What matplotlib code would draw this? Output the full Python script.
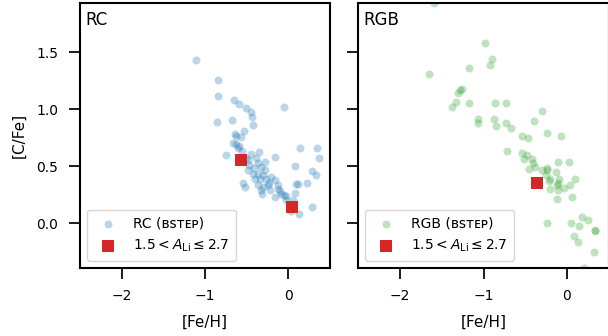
import matplotlib.pyplot as plt

# RC stars (bstep)
rc_feh = [-1.108, -0.847, -0.840, -0.651, -0.599, -0.514, -0.454, -0.437, -0.430, -0.057,
          -0.852, -0.675, -0.539, -0.635, -0.575, -0.645, -0.666, -0.627, -0.606, -0.755,
          -0.558, -0.446, -0.349, -0.386, -0.506, -0.286, -0.165, -0.365, -0.325, -0.486,
          -0.425, -0.365, -0.286, -0.346, -0.265, -0.205, -0.165, -0.406, -0.546, -0.527,
          -0.365, -0.305, -0.245, -0.124, -0.325, -0.225, -0.124, -0.084, -0.313, -0.165,
          -0.052, -0.033, 0.057, 0.084, 0.136, 0.337, 0.365, 0.084, 0.277, 0.329,
          0.096, 0.117, 0.225, 0.277, 0.124, 0.036, -0.470, -0.301, -0.229, -0.096,
          -0.024, -0.482, -0.590, -0.410]
rc_cfe = [1.433, 1.259, 1.112, 1.080, 1.048, 1.010, 0.977, 0.927, 0.865, 1.019,
          0.886, 0.904, 0.807, 0.763, 0.754, 0.778, 0.706, 0.695, 0.657, 0.600,
          0.635, 0.606, 0.627, 0.568, 0.568, 0.538, 0.583, 0.524, 0.494, 0.465,
          0.436, 0.436, 0.465, 0.392, 0.392, 0.406, 0.377, 0.392, 0.353, 0.318,
          0.333, 0.318, 0.333, 0.333, 0.289, 0.289, 0.304, 0.259, 0.253, 0.229,
          0.244, 0.200, 0.200, 0.265, 0.662, 0.657, 0.574, 0.500, 0.459, 0.427,
          0.348, 0.348, 0.353, 0.147, 0.077, 0.112, 0.510, 0.420, 0.350, 0.280,
          0.236, 0.553, 0.677, 0.483]

# RGB stars (bstep)
rgb_feh = [-1.599, -0.981, -0.900, -0.928, -1.177, -1.651, -1.253, -1.277, -1.306, -1.325,
           -1.378, -1.173, -0.867, -0.728, -0.294, -1.069, -1.072, -0.880, -0.848, -0.731,
           -0.667, -0.398, -0.237, -0.069, -0.542, -0.470, -0.716, -0.542, -0.482, -0.514,
           -0.422, -0.402, -0.378, -0.454, -0.105, 0.028, -0.301, -0.241, -0.253, -0.133,
           -0.201, -0.089, 0.100, 0.031, -0.120, -0.201, -0.041, -0.210, -0.108, -0.105,
           0.060, -0.117, -0.241, 0.043, 0.145, 0.184, 0.253, 0.333, 0.084, 0.133,
           0.329, 0.200, -0.243, 0.341]
rgb_cfe = [1.930, 1.580, 1.439, 1.389, 1.359, 1.310, 1.177, 1.171, 1.142, 1.063,
           1.019, 1.050, 1.054, 1.056, 0.986, 0.915, 0.880, 0.913, 0.856, 0.883,
           0.836, 0.900, 0.792, 0.765, 0.765, 0.750, 0.635, 0.618, 0.598, 0.560,
           0.562, 0.530, 0.494, 0.480, 0.536, 0.538, 0.465, 0.471, 0.427, 0.450,
           0.392, 0.392, 0.392, 0.339, 0.333, 0.297, 0.312, 0.368, 0.353, 0.295,
           0.229, 0.215, 0.004, 0.000, -0.020, 0.053, 0.030, -0.058, -0.111, -0.162,
           -0.252, -0.394, 0.487, -0.064]

# Li-rich stars, 1.5 < A_Li <= 2.7
li_rc_feh = [-0.566, 0.048]
li_rc_cfe = [0.556, 0.141]
li_rgb_feh = [-0.358]
li_rgb_cfe = [0.353]

plt.rcParams['font.family'] = ['DejaVu Sans']
fig = plt.figure(figsize=(6.08, 3.36), dpi=100)
ax1 = fig.add_axes([0.1316, 0.203, 0.4114, 0.788])
ax2 = fig.add_axes([0.5896, 0.203, 0.4114, 0.788], sharey=ax1)

panels = [(ax1, rc_feh, rc_cfe, li_rc_feh, li_rc_cfe, 'tab:blue', 'RC'),
          (ax2, rgb_feh, rgb_cfe, li_rgb_feh, li_rgb_cfe, 'tab:green', 'RGB')]

for ax, x, y, lx, ly, col, name in panels:
    ax.scatter(x, y, s=33, color=col, alpha=0.3, linewidths=0,
               label=name + ' (ʙꜱᴛᴇᴘ)')
    ax.scatter(lx, ly, s=66, marker='s', color='tab:red', linewidths=0,
               label=r'$1.5 < A_{\rm Li} \leq 2.7$')
    ax.set_xlim(-2.5, 0.5)
    ax.set_xticks([-2, -1, 0])
    ax.set_xlabel('[Fe/H]', fontsize=11, labelpad=8)
    ax.text(0.02, 0.97, name, transform=ax.transAxes, fontsize=12,
            ha='left', va='top')
    ax.legend(loc='lower left', fontsize=10, borderpad=0.5,
              handletextpad=0.8, framealpha=0.8)
    for sp in ax.spines.values():
        sp.set_linewidth(1.5)
    ax.tick_params(direction='out', length=8, width=1.25, pad=7.5, labelsize=10)

ax1.set_ylim(-0.39, 1.93)
ax1.set_yticks([0.0, 0.5, 1.0, 1.5])
ax1.set_ylabel('[C/Fe]', fontsize=11, labelpad=7)
ax2.tick_params(labelleft=False)

fig.savefig('out.png', dpi=100)
